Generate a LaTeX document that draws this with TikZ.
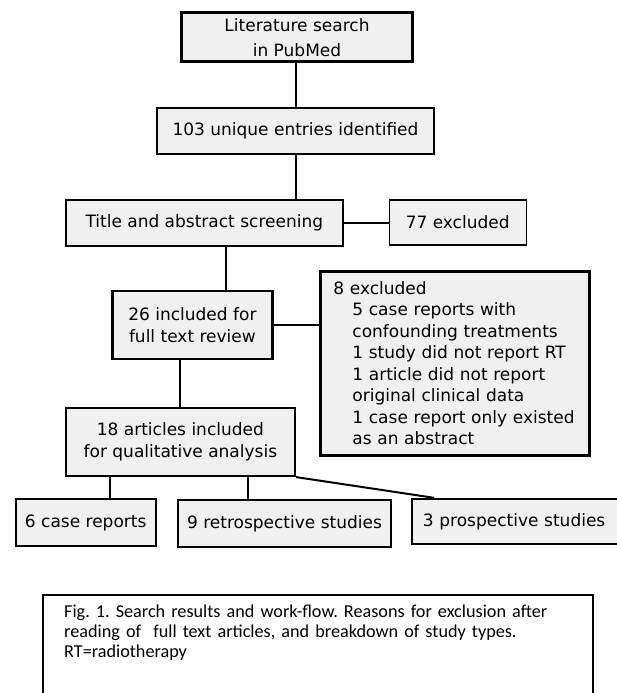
\documentclass[tikz,border=0pt]{standalone}
\usepackage{fontspec}
\setmainfont{DejaVu Sans}
\newfontfamily\figcapfont{Carlito}
\newcommand{\flowfont}{\fontsize{17}{21.5}\selectfont}

\begin{document}
\begin{tikzpicture}[x=1pt,y=-1pt,
	box/.style={draw,fill=black!6,line width=2.4pt,inner sep=0pt,align=center,font=\flowfont},
	thinbox/.style={box,line width=1.3pt},
	link/.style={line width=2pt}]
	\useasboundingbox (0,0) rectangle (616,693);
	% flow boxes
	\node[box,line width=2.8pt,minimum width=231,minimum height=49,font=\fontsize{17}{25}\selectfont] (search) at (297,37.2) {Literature search\\in PubMed};
	\node[box,minimum width=277,minimum height=46] (entries) at (295.5,131) {103 unique entries identified};
	\node[box,minimum width=277,minimum height=46] (screen) at (204.3,223) {Title and abstract screening};
	\node[thinbox,minimum width=137,minimum height=45] (excl77) at (457.7,222.4) {77 excluded};
	\node[box,line width=2.8pt,minimum width=160,minimum height=68] (fulltext) at (192.4,325) {26 included for\\full text review};
	\node[box,line width=2.8pt,anchor=north west,minimum height=184,align=left,inner xsep=13pt,text width=243pt] (excl8) at (319,270) {8 excluded\\
		\hspace*{19pt}5 case reports with\\
		\hspace*{19pt}confounding treatments\\
		\hspace*{19pt}1 study did not report RT\\
		\hspace*{19pt}1 article did not report\\
		\hspace*{19pt}original clinical data\\
		\hspace*{19pt}1 case report only existed\\
		\hspace*{19pt}as an abstract};
	\node[box,minimum width=229,minimum height=68] (qual) at (180.4,441.9) {18 articles included\\for qualitative analysis};
	\node[box,minimum width=140,minimum height=47] (cases) at (85.7,522.5) {6 case reports};
	\node[box,minimum width=213,minimum height=47] (retro) at (284.5,523.5) {9 retrospective studies};
	\node[box,anchor=west,minimum height=45,text width=200pt,inner xsep=10.7pt,align=left] (prosp) at (411,521.5) {3 prospective studies};
	% connectors
	\draw[link] (entries.north) -- (entries.north |- search.south);
	\draw[link] (entries.south) -- (entries.south |- screen.north);
	\draw[link] (screen.east) -- (screen.east -| excl77.west);
	\draw[link] ([xshift=22pt]screen.south) -- ([xshift=22pt]screen.south |- fulltext.north);
	\draw[link] (fulltext.east) -- (fulltext.east -| excl8.west);
	\draw[link] (qual.north) -- (qual.north |- fulltext.south);
	\draw[link] ([xshift=-70pt]qual.south) -- ([xshift=-70pt]qual.south |- cases.north);
	\draw[link] ([xshift=68pt]qual.south) -- ([xshift=68pt]qual.south |- retro.north);
	\draw[link] (qual.south east) -- ([xshift=23pt]prosp.north west);
	% caption
	\node[anchor=north west,text width=520pt,align=left,inner sep=0pt,font=\figcapfont\frenchspacing\fontsize{18.2}{19.7}\selectfont] (caption) at (64,605) {Fig. 1. Search results and work-flow. Reasons for exclusion after\\reading of~ full text articles, and breakdown of study types.\\RT=radiotherapy};
	\draw[line width=1.2pt] (43,595) rectangle (593,720);
\end{tikzpicture}
\end{document}
